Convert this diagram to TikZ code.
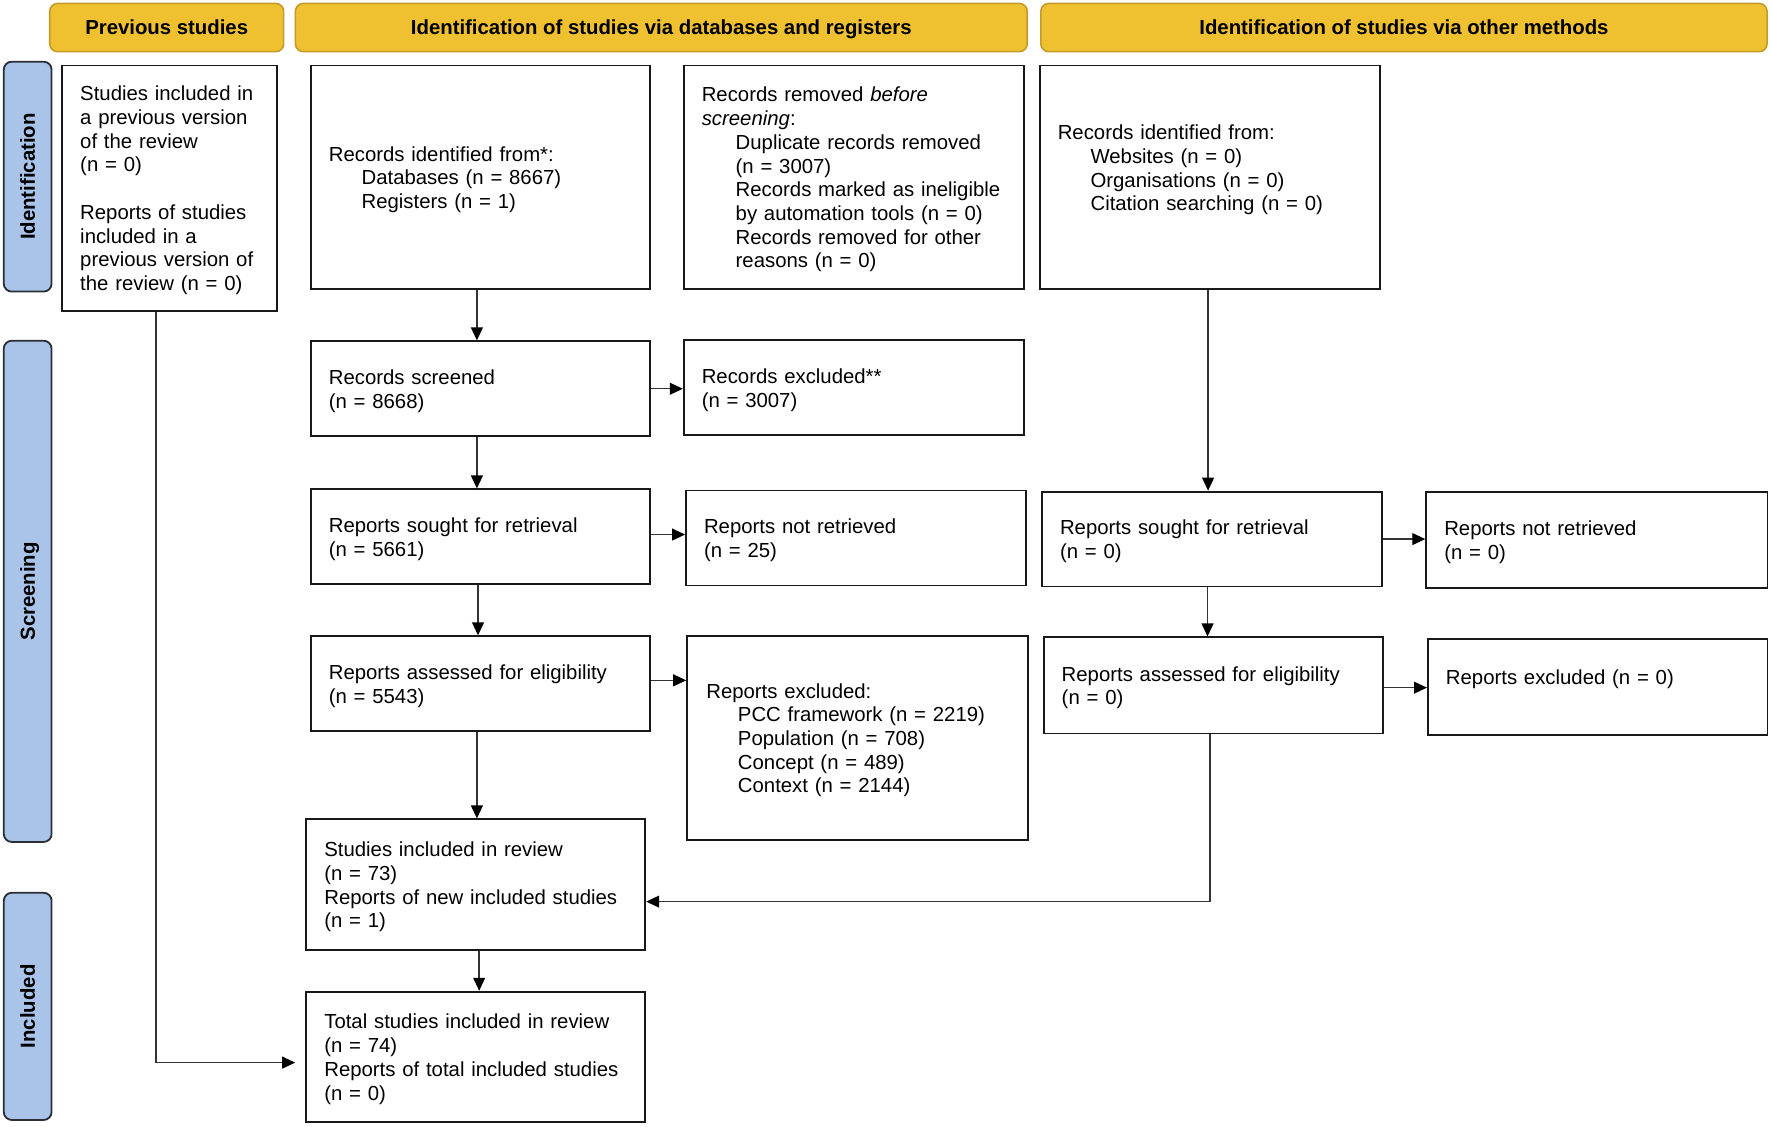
\documentclass[tikz,border=0pt]{standalone}
\usepackage{fontspec}
\setmainfont{Liberation Sans}
\usetikzlibrary{arrows.meta}
\definecolor{hdrfill}{HTML}{EFC02F}
\definecolor{hdrline}{HTML}{C49A2A}
\definecolor{sidefill}{HTML}{A9C4E8}
\definecolor{sideline}{HTML}{2A2E36}
\definecolor{conn}{HTML}{333333}
\begin{document}
\begin{tikzpicture}[x=1pt,y=-1pt,
  every node/.style={font=\fontsize{18}{21}\selectfont},
  box/.style={draw=black!90, line width=1.6pt, rectangle, align=left, inner xsep=16pt, inner ysep=0pt,
    execute at begin node={\rule{0pt}{17pt}}},
  hdr/.style={draw=hdrline, fill=hdrfill, line width=1.4pt, rounded corners=7pt, text height=12.9pt, text depth=0pt, font=\fontsize{18}{21}\selectfont\bfseries},
  side/.style={draw=sideline, fill=sidefill, line width=1.6pt, rounded corners=7pt, rotate=90, text height=12.9pt, text depth=0pt, font=\fontsize{18}{21}\selectfont\bfseries},
  arr/.style={draw=conn, line width=1.2pt, -{Triangle[length=11.5pt,width=10.5pt,fill=black,color=black]}},
]
\useasboundingbox (0,0) rectangle (1568,996.4);

% headers
\node[hdr, minimum width=207pt, minimum height=42.7pt] (hprev) at (147.5,24.4) {Previous studies};
\node[hdr, minimum width=647.6pt, minimum height=42.7pt] (hdb) at (585.2,24.4) {Identification of studies via databases and registers};
\node[hdr, minimum width=642.6pt, minimum height=42.7pt] (hoth) at (1242.3,24.4) {Identification of studies via other methods};

% side labels
\node[side, minimum width=203.4pt, minimum height=42.3pt] (sid) at (24.5,156.3) {Identification};
\node[side, minimum width=443.5pt, minimum height=42.3pt] (sscr) at (24.5,523.25) {Screening};
\node[side, minimum width=201pt, minimum height=42.3pt] (sinc) at (24.5,890.5) {Included};

% boxes
\node[box, minimum width=190pt, text width=158pt, minimum height=217pt] (prev) at (150,166.5)
  {Studies included in\\ a previous version\\ of the review\\ (n = 0)\\ \mbox{}\\ Reports of studies\\ included in a\\ previous version of\\ the review (n = 0)};
\node[box, minimum width=300pt, text width=268pt, minimum height=198pt] (recid) at (425,157)
  {Records identified from*:\\ \hspace*{29pt}Databases (n = 8667)\\ \hspace*{29pt}Registers (n = 1)};
\node[box, minimum width=301pt, text width=269pt, minimum height=198pt] (recrem) at (755.5,157)
  {Records removed \textit{before}\\ \textit{screening}:\\ \hspace*{30pt}Duplicate records removed\\ \hspace*{30pt}(n = 3007)\\ \hspace*{30pt}Records marked as ineligible\\ \hspace*{30pt}by automation tools (n = 0)\\ \hspace*{30pt}Records removed for other\\ \hspace*{30pt}reasons (n = 0)};
\node[box, minimum width=301pt, text width=269pt, minimum height=198pt] (othid) at (1070.5,157)
  {Records identified from:\\ \hspace*{29pt}Websites (n = 0)\\ \hspace*{29pt}Organisations (n = 0)\\ \hspace*{29pt}Citation searching (n = 0)\\ \mbox{}};

\node[box, minimum width=300pt, text width=268pt, minimum height=84pt] (screened) at (425,344)
  {Records screened\\ (n = 8668)};
\node[box, minimum width=301pt, text width=269pt, minimum height=84pt] (excl) at (755.5,343)
  {Records excluded**\\ (n = 3007)};

\node[box, minimum width=300pt, text width=268pt, minimum height=84pt] (sought) at (425,475)
  {Reports sought for retrieval\\ (n = 5661)};
\node[box, minimum width=301pt, text width=269pt, minimum height=84pt] (notretr) at (757.5,476)
  {Reports not retrieved\\ (n = 25)};
\node[box, minimum width=301pt, text width=269pt, minimum height=84pt] (osought) at (1072.5,477)
  {Reports sought for retrieval\\ (n = 0)};
\node[box, minimum width=302pt, text width=270pt, minimum height=84.5pt] (onotretr) at (1413,477.75)
  {Reports not retrieved\\ (n = 0)};

\node[box, minimum width=300pt, text width=268pt, minimum height=84pt] (assessed) at (425,605)
  {Reports assessed for eligibility\\ (n = 5543)};
\node[box, minimum width=301.5pt, text width=267.5pt, inner xsep=17pt, minimum height=180pt] (repexcl) at (758.75,653)
  {Reports excluded:\\ \hspace*{28pt}PCC framework (n = 2219)\\ \hspace*{28pt}Population (n = 708)\\ \hspace*{28pt}Concept (n = 489)\\ \hspace*{28pt}Context (n = 2144)};
\node[box, minimum width=300.5pt, text width=268.5pt, minimum height=85pt] (oassessed) at (1073.75,606.5)
  {Reports assessed for eligibility\\ (n = 0)};
\node[box, minimum width=300.5pt, text width=268.5pt, minimum height=84.7pt] (oexcl) at (1413.75,608)
  {Reports excluded (n = 0)\\ \mbox{}};

\node[box, minimum width=300pt, text width=268pt, minimum height=115.6pt] (incl) at (421,782.8)
  {Studies included in review\\ (n = 73)\\ Reports of new included studies\\ (n = 1)};
\node[box, minimum width=300pt, text width=268pt, minimum height=115.5pt] (total) at (421,935.25)
  {Total studies included in review\\ (n = 74)\\ Reports of total included studies\\ (n = 0)};

% connectors
\draw[arr] ([xshift=-3pt]recid.south) -- ([xshift=-3pt]recid.south |- screened.north);
\draw[arr] ([xshift=-3pt]screened.south) -- ([xshift=-3pt]screened.south |- sought.north);
\draw[arr] ([xshift=-2pt]sought.south) -- ([xshift=-2pt]sought.south |- assessed.north);
\draw[arr] ([xshift=-3pt]assessed.south) -- ([xshift=-3pt]assessed.south |- incl.north);
\draw[arr] ([xshift=3pt]incl.south) -- ([xshift=3pt]incl.south |- total.north);
\draw[arr] (screened.east) -- (screened.east -| excl.west);
\draw[arr] ([yshift=2pt]sought.east) -- ([yshift=2pt]sought.east -| notretr.west);
\draw[arr] ([yshift=3pt]assessed.east) -- ([yshift=3pt]assessed.east -| repexcl.west);
\draw[arr] ([xshift=-1.5pt]othid.south) -- ([xshift=-1.5pt]othid.south |- osought.north);
\draw[arr] (osought.east) -- (osought.east -| onotretr.west);
\draw[arr] ([xshift=-4pt]osought.south) -- ([xshift=-4pt]osought.south |- oassessed.north);
\draw[arr] ([yshift=-2pt]oassessed.east) -- ([yshift=-2pt]oassessed.east -| oexcl.west);
\draw[arr] ([xshift=-3pt]oassessed.south) |- ([yshift=-15pt]incl.east);
\draw[arr, shorten >=9pt] ([xshift=-12pt]prev.south) |- ([yshift=-5pt]total.west);
\end{tikzpicture}
\end{document}
